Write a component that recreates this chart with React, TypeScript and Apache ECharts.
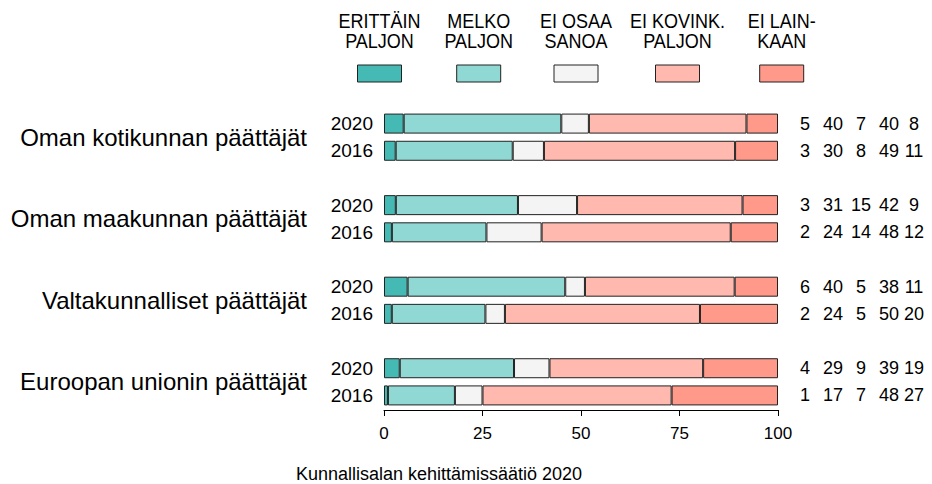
import React, { useEffect, useRef } from "react";
import * as echarts from "echarts";

// ---- data ----
const groups = [
  "Oman kotikunnan päättäjät",
  "Oman maakunnan päättäjät",
  "Valtakunnalliset päättäjät",
  "Euroopan unionin päättäjät",
];
const years = ["2020", "2016"];
const responseLabels = [
  "ERITTÄIN\nPALJON",
  "MELKO\nPALJON",
  "EI OSAA\nSANOA",
  "EI KOVINK.\nPALJON",
  "EI LAIN-\nKAAN",
];
// rows in order: group1 2020, group1 2016, group2 2020, ...
const erittainPaljon = [5, 3, 3, 2, 6, 2, 4, 1];
const melkoPaljon = [40, 30, 31, 24, 40, 24, 29, 17];
const eiOsaaSanoa = [7, 8, 15, 14, 5, 5, 9, 7];
const eiKovinkaanPaljon = [40, 49, 42, 48, 38, 50, 39, 48];
const eiLainkaan = [8, 11, 9, 12, 11, 20, 19, 27];
const xTicks = [0, 25, 50, 75, 100];
const colors = ["#45BAB4", "#8FD8D3", "#F4F4F4", "#FFB9AE", "#FF9A8B"];
const caption = "Kunnallisalan kehittämissäätiö 2020";

const seriesValues = [erittainPaljon, melkoPaljon, eiOsaaSanoa, eiKovinkaanPaljon, eiLainkaan];

// legend layout (pixel centres)
const legendCenters = [379.5, 478.7, 576, 677.5, 781.7];

export default function App() {
  const ref = useRef<HTMLDivElement>(null);

  useEffect(() => {
    if (!ref.current) return;
    const chart = echarts.init(ref.current, undefined, { renderer: "svg" });

    // slots: 2 rows per group + 1 gap between groups
    const slotKeys: string[] = [];
    const slotRow: number[] = [];
    groups.forEach((g, gi) => {
      years.forEach((y, yi) => {
        slotKeys.push(gi + "|" + y);
        slotRow.push(gi * 2 + yi);
      });
      if (gi < groups.length - 1) {
        slotKeys.push("gap" + gi);
        slotRow.push(-1);
      }
    });
    const rowSums = erittainPaljon.map((_, r) =>
      seriesValues.reduce((s, arr) => s + arr[r], 0)
    );

    // group label axis: boundaryGap false, points at slot boundaries
    const boundaryKeys: string[] = [];
    for (let k = 0; k <= slotKeys.length; k++) boundaryKeys.push("b" + k);
    const boundaryLabel = (k: number) => {
      if ((k - 1) % 3 === 0) return groups[(k - 1) / 3] || "";
      return "";
    };

    const font = "Liberation Sans, Arial, Helvetica, sans-serif";
    const widths = [28, 28, 28, 28, 22];
    const rich: any = {};
    widths.forEach((w, i) => {
      rich["c" + i] = { width: w, align: "center", fontSize: 18, color: "#000", fontFamily: font };
    });

    const graphic: any[] = [];
    responseLabels.forEach((lab, i) => {
      graphic.push({
        type: "text",
        x: legendCenters[i],
        y: 10.5,
        scaleX: 0.9,
        originX: 0,
        style: {
          text: lab,
          fontSize: 20,
          fontFamily: font,
          lineHeight: 20.5,
          align: "center",
          verticalAlign: "top",
          fill: "#000",
        },
      });
      graphic.push({
        type: "rect",
        shape: { x: legendCenters[i] - 22, y: 65, width: 44, height: 17 },
        style: { fill: colors[i], stroke: "#222", lineWidth: 1 },
      });
    });
    graphic.push({
      type: "text",
      x: 439,
      y: 474,
      style: {
        text: caption,
        fontSize: 18,
        fontFamily: font,
        align: "center",
        verticalAlign: "middle",
        fill: "#000",
      },
    });

    chart.setOption({
      animation: false,
      textStyle: { fontFamily: font },
      grid: { left: 384, width: 394, top: 110, height: 299, containLabel: false },
      xAxis: {
        type: "value",
        min: xTicks[0],
        max: xTicks[xTicks.length - 1],
        interval: 25,
        offset: 1,
        splitLine: { show: false },
        axisLine: { show: true, lineStyle: { color: "#000", width: 1 } },
        axisTick: { show: true, length: 6, lineStyle: { color: "#000" } },
        axisLabel: { fontSize: 17, color: "#000", margin: 15, fontFamily: font },
      },
      yAxis: [
        {
          type: "category",
          inverse: true,
          data: slotKeys,
          axisLine: { show: false },
          axisTick: { show: false },
          splitLine: { show: false },
          axisLabel: {
            interval: 0,
            margin: 11,
            fontSize: 19,
            color: "#000",
            fontFamily: font,
            formatter: (v: string) => (v.startsWith("gap") ? "" : v.split("|")[1]),
          },
        },
        {
          type: "category",
          inverse: true,
          boundaryGap: false,
          data: boundaryKeys,
          position: "left",
          axisLine: { show: false },
          axisTick: { show: false },
          splitLine: { show: false },
          axisLabel: {
            interval: 0,
            margin: 77,
            fontSize: 24,
            color: "#000",
            fontFamily: font,
            formatter: (_v: string, idx: number) => boundaryLabel(idx),
          },
        },
        {
          type: "category",
          inverse: true,
          data: slotKeys,
          position: "right",
          axisLine: { show: false },
          axisTick: { show: false },
          splitLine: { show: false },
          axisLabel: {
            interval: 0,
            margin: 13,
            align: "left",
            rich,
            formatter: (_v: string, idx: number) => {
              const r = slotRow[idx];
              if (r < 0) return "";
              return seriesValues.map((arr, i) => `{c${i}|${arr[r]}}`).join("");
            },
          },
        },
      ],
      series: seriesValues.map((arr, si) => ({
        type: "bar",
        name: responseLabels[si].replace("\n", " "),
        stack: "total",
        yAxisIndex: 0,
        barWidth: 20,
        itemStyle: { color: colors[si], borderColor: "#222", borderWidth: 1 },
        data: slotRow.map((r) => (r < 0 ? "-" : (arr[r] / rowSums[r]) * 100)),
      })),
      graphic,
    });

    return () => chart.dispose();
  }, []);

  return (
    <div
      ref={ref}
      style={{ position: "fixed", left: 0, top: 0, width: 932, height: 484, background: "#fff" }}
    />
  );
}
